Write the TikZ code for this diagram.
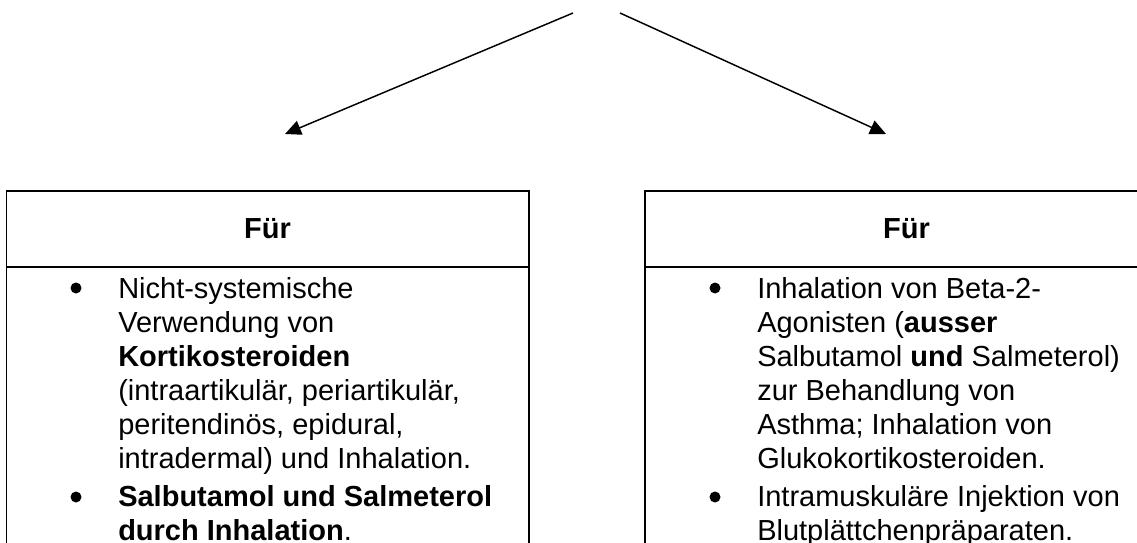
\documentclass[tikz,border=0pt]{standalone}
\usepackage{fontspec}
\setmainfont{Liberation Sans}
\usetikzlibrary{arrows.meta}
\begin{document}
\begin{tikzpicture}[x=0.75pt,y=-0.75pt,
  boxline/.style={draw=black,line width=1.1pt},
  itemtext/.style={anchor=base west,inner sep=0pt,align=left,
    font=\fontsize{21.75pt}{25.5pt}\selectfont},
  headtext/.style={anchor=base,inner sep=0pt,
    font=\fontsize{21.75pt}{25.5pt}\selectfont\bfseries},
  arr/.style={line width=1.1pt,-{Triangle[length=12pt,width=11pt]}},
  bul/.style={fill=black}]
\useasboundingbox (0,0) rectangle (1137,542);
\clip (0,0) rectangle (1137,542);
% arrows
\coordinate (ltop) at (573,13);
\coordinate (ltip) at (285,134);
\coordinate (rtop) at (620,13);
\coordinate (rtip) at (886,134);
\draw[arr] (ltop) -- (ltip);
\draw[arr] (rtop) -- (rtip);
% left box
\draw[boxline] (6.3,620) -- (6.3,191) -- (529,191) -- (529,620);
\draw[boxline] (6.3,267) -- (529,267);
\node[headtext] (lhead) at (267.6,238) {Für};
\fill[bul] (76,288) circle (5.5);
\node[itemtext] (l1) at (118,468) {Nicht-systemische\\Verwendung von\\\textbf{Kortikosteroiden}\\(intraartikulär, periartikulär,\\peritendinös, epidural,\\intradermal) und Inhalation.};
\fill[bul] (76,497) circle (5.5);
\node[itemtext] (l2) at (118,540) {\textbf{Salbutamol und Salmeterol}\\\textbf{durch Inhalation}.};
% right box
\draw[boxline] (645,620) -- (645,191) -- (1170,191) -- (1170,620);
\draw[boxline] (645,267) -- (1170,267);
\node[headtext] (rhead) at (906.5,238) {Für};
\fill[bul] (715,288) circle (5.5);
\node[itemtext] (r1) at (757,468) {Inhalation von Beta-2-\\Agonisten (\textbf{ausser}\\Salbutamol \textbf{und} Salmeterol)\\zur Behandlung von\\Asthma; Inhalation von\\Glukokortikosteroiden.};
\fill[bul] (715,497) circle (5.5);
\node[itemtext] (r2) at (757,540) {Intramuskuläre Injektion von\\Blutplättchenpräparaten.};
\end{tikzpicture}
\end{document}
